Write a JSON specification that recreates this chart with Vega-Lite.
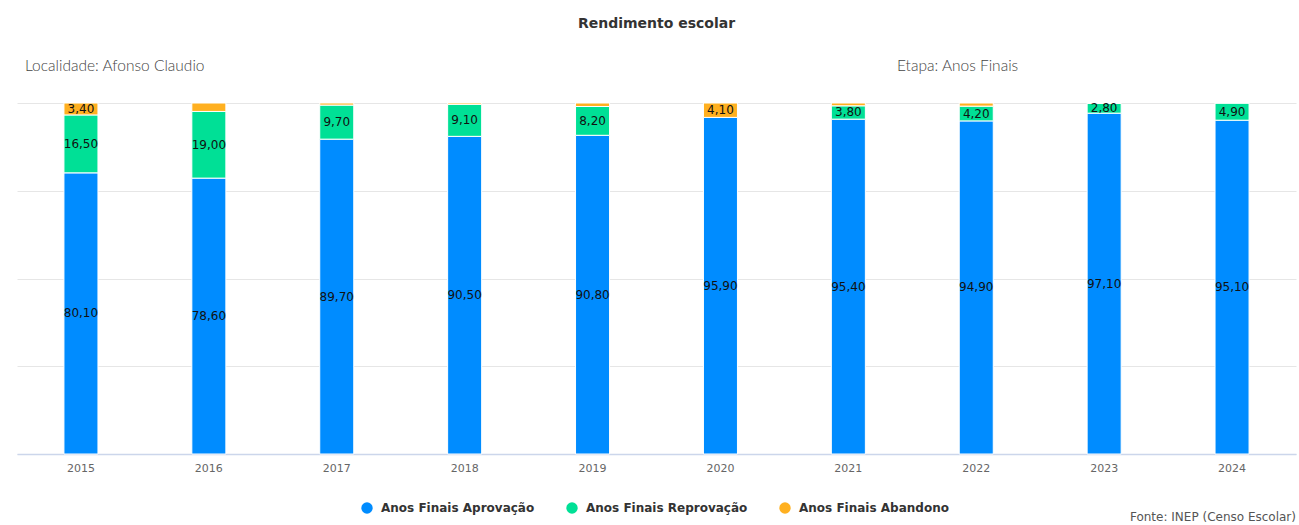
{
  "$schema": "https://vega.github.io/schema/vega-lite/v6.json",
  "width": 1279,
  "height": 351,
  "autosize": {"type": "none"},
  "padding": {"left": 17, "top": 103, "right": 3, "bottom": 71},
  "background": "white",
  "config": {
    "locale": {"number": {"decimal": ",", "thousands": ".", "grouping": [3], "currency": ["R$ ", ""]}},
    "view": {"stroke": null},
    "font": "DejaVu Sans"
  },
  "title": {
    "text": "Rendimento escolar",
    "anchor": "middle",
    "offset": 28,
    "font": "DejaVu Sans",
    "fontSize": 14,
    "fontWeight": "bold",
    "color": "#333333"
  },
  "datasets": {
    "rend": [
      {"ano": "2015", "serie": "Anos Finais Aprovação", "ordem": 1, "valor": 80.1},
      {"ano": "2015", "serie": "Anos Finais Reprovação", "ordem": 2, "valor": 16.5},
      {"ano": "2015", "serie": "Anos Finais Abandono", "ordem": 3, "valor": 3.4},
      {"ano": "2016", "serie": "Anos Finais Aprovação", "ordem": 1, "valor": 78.6},
      {"ano": "2016", "serie": "Anos Finais Reprovação", "ordem": 2, "valor": 19.0},
      {"ano": "2016", "serie": "Anos Finais Abandono", "ordem": 3, "valor": 2.4},
      {"ano": "2017", "serie": "Anos Finais Aprovação", "ordem": 1, "valor": 89.7},
      {"ano": "2017", "serie": "Anos Finais Reprovação", "ordem": 2, "valor": 9.7},
      {"ano": "2017", "serie": "Anos Finais Abandono", "ordem": 3, "valor": 0.6},
      {"ano": "2018", "serie": "Anos Finais Aprovação", "ordem": 1, "valor": 90.5},
      {"ano": "2018", "serie": "Anos Finais Reprovação", "ordem": 2, "valor": 9.1},
      {"ano": "2018", "serie": "Anos Finais Abandono", "ordem": 3, "valor": 0.4},
      {"ano": "2019", "serie": "Anos Finais Aprovação", "ordem": 1, "valor": 90.8},
      {"ano": "2019", "serie": "Anos Finais Reprovação", "ordem": 2, "valor": 8.2},
      {"ano": "2019", "serie": "Anos Finais Abandono", "ordem": 3, "valor": 1.0},
      {"ano": "2020", "serie": "Anos Finais Aprovação", "ordem": 1, "valor": 95.9},
      {"ano": "2020", "serie": "Anos Finais Reprovação", "ordem": 2, "valor": 0},
      {"ano": "2020", "serie": "Anos Finais Abandono", "ordem": 3, "valor": 4.1},
      {"ano": "2021", "serie": "Anos Finais Aprovação", "ordem": 1, "valor": 95.4},
      {"ano": "2021", "serie": "Anos Finais Reprovação", "ordem": 2, "valor": 3.8},
      {"ano": "2021", "serie": "Anos Finais Abandono", "ordem": 3, "valor": 0.8},
      {"ano": "2022", "serie": "Anos Finais Aprovação", "ordem": 1, "valor": 94.9},
      {"ano": "2022", "serie": "Anos Finais Reprovação", "ordem": 2, "valor": 4.2},
      {"ano": "2022", "serie": "Anos Finais Abandono", "ordem": 3, "valor": 0.9},
      {"ano": "2023", "serie": "Anos Finais Aprovação", "ordem": 1, "valor": 97.1},
      {"ano": "2023", "serie": "Anos Finais Reprovação", "ordem": 2, "valor": 2.8},
      {"ano": "2023", "serie": "Anos Finais Abandono", "ordem": 3, "valor": 0.1},
      {"ano": "2024", "serie": "Anos Finais Aprovação", "ordem": 1, "valor": 95.1},
      {"ano": "2024", "serie": "Anos Finais Reprovação", "ordem": 2, "valor": 4.9},
      {"ano": "2024", "serie": "Anos Finais Abandono", "ordem": 3, "valor": 0}
    ],
    "localidade": [{"texto": "Localidade: Afonso Claudio"}],
    "etapa": [{"texto": "Etapa: Anos Finais"}],
    "fonte": [{"texto": "Fonte: INEP (Censo Escolar)"}]
  },
  "layer": [
    {
      "data": {"name": "rend"},
      "transform": [
        {"stack": "valor", "groupby": ["ano"], "sort": [{"field": "ordem", "order": "ascending"}], "as": ["v0", "v1"]}
      ],
      "mark": {"type": "bar", "stroke": "#ffffff", "strokeWidth": 1},
      "encoding": {
        "x": {
          "field": "ano", "type": "ordinal",
          "scale": {"paddingInner": 0.734, "paddingOuter": 0.367},
          "axis": {
            "title": null, "labelAngle": 0, "ticks": false,
            "domainColor": "#ccd6eb", "domainWidth": 1.5,
            "labelColor": "#666666", "labelFontSize": 11, "labelFont": "DejaVu Sans",
            "labelPadding": 8, "grid": false
          }
        },
        "y": {
          "field": "v1", "type": "quantitative",
          "scale": {"domain": [0, 100], "nice": false},
          "axis": {
            "title": null, "labels": false, "ticks": false, "domain": false,
            "grid": true, "gridColor": "#e6e6e6", "values": [0, 25, 50, 75, 100]
          }
        },
        "y2": {"field": "v0"},
        "color": {
          "field": "serie", "type": "nominal",
          "scale": {
            "domain": ["Anos Finais Aprovação", "Anos Finais Reprovação", "Anos Finais Abandono"],
            "range": ["#008cff", "#00e096", "#ffb020"]
          },
          "legend": {
            "title": null, "orient": "none", "direction": "horizontal",
            "legendX": 344, "legendY": 399,
            "symbolType": "circle", "symbolSize": 130, "symbolStrokeWidth": 0,
            "labelFont": "DejaVu Sans", "labelFontSize": 12, "labelFontWeight": "bold",
            "labelColor": "#333333", "labelOffset": 8, "columnPadding": 31, "labelLimit": 400
          }
        }
      }
    },
    {
      "data": {"name": "rend"},
      "transform": [
        {"stack": "valor", "groupby": ["ano"], "sort": [{"field": "ordem", "order": "ascending"}], "as": ["v0", "v1"]},
        {"filter": "datum.valor >= 2.5"},
        {"calculate": "(datum.v0 + datum.v1) / 2", "as": "meio"}
      ],
      "mark": {"type": "text", "font": "DejaVu Sans", "fontSize": 12, "color": "#111111", "baseline": "middle", "align": "center"},
      "encoding": {
        "x": {"field": "ano", "type": "ordinal"},
        "y": {"field": "meio", "type": "quantitative"},
        "text": {"field": "valor", "type": "quantitative", "format": ".2f"}
      }
    },
    {
      "data": {"name": "localidade"},
      "mark": {"type": "text", "font": "Lato", "fontSize": 15.5, "fontWeight": 300, "color": "#444444", "align": "left", "baseline": "middle", "x": 8, "y": -37},
      "encoding": {"text": {"field": "texto"}}
    },
    {
      "data": {"name": "etapa"},
      "mark": {"type": "text", "font": "Lato", "fontSize": 15.5, "fontWeight": 300, "color": "#444444", "align": "left", "baseline": "middle", "x": 880, "y": -37},
      "encoding": {"text": {"field": "texto"}}
    },
    {
      "data": {"name": "fonte"},
      "mark": {"type": "text", "font": "DejaVu Sans", "fontSize": 12, "color": "#555555", "align": "right", "baseline": "middle", "x": 1279, "y": 414},
      "encoding": {"text": {"field": "texto"}}
    }
  ]
}
